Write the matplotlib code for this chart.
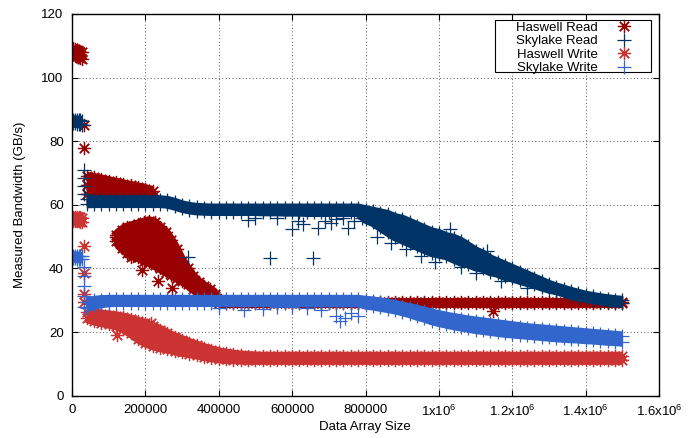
import numpy as np
import matplotlib
matplotlib.use("Agg")
import matplotlib.pyplot as plt
from matplotlib.lines import Line2D
from matplotlib.patches import Rectangle

plt.rcParams['font.family'] = ['Liberation Sans', 'DejaVu Sans']
plt.rcParams['mathtext.default'] = 'regular'

nan = np.nan

# array sizes (in thousands) of the dense part of the sweep
GRID_K = [40, 60, 80, 100, 120, 140, 160, 180, 200, 220,
          240, 260, 280, 300, 320, 340, 360, 380, 400, 420,
          440, 460, 480, 500, 520, 540, 560, 580, 600, 620,
          640, 660, 680, 700, 720, 740, 760, 780, 800, 820,
          840, 860, 880, 900, 920, 940, 960, 980, 1000, 1020,
          1040, 1060, 1080, 1100, 1120, 1140, 1160, 1180, 1200, 1220,
          1240, 1260, 1280, 1300, 1320, 1340, 1360, 1380, 1400, 1420,
          1440, 1460, 1480, 1500]
EARLY_K = [3, 8, 13, 18, 23, 28]
KNEE_K = [120, 135, 150, 165, 180, 195, 210, 225, 240, 255,
          270, 285, 300, 315, 330, 345, 360, 375, 390]

# ---- Haswell Read
HR_EARLY_HI = [109.3, 109.0, 108.8, 108.5, 108.2, 108.0]
HR_EARLY_LO = [107.3, 107.0, 106.7, 106.4, 106.1, 105.8]
HR_JUMP_K = [32, 32]
HR_JUMP = [85.0, 77.8]
HR_UP_A = [69.0, 68.6, 68.1, 67.6, 67.1, 66.6, 66.1, 65.6, 65.1, 64.5]
HR_UP_B = [66.2, 65.9, 65.5, 65.1, 64.7, 64.3, 63.9, 63.5, 63.1, 62.7]
HR_UP_C = [63.5, 63.4, 63.2, 63.0, 62.8, 62.6, 62.4, 62.2, 62.0, 61.8]
HR_KNEE_A = [50.5, 52.0, 53.0, 53.5, 54.0, 54.5, 55.0, 54.5, 53.0, 51.5,
             49.0, 46.0, 42.5, 40.0, 37.5, 35.8, 34.5, 33.5, 32.0]
HR_KNEE_B = [49.8, 50.2, 50.3, 50.3, 50.5, 50.5, 50.7, 50.0, 48.7, 47.3,
             45.3, 43.0, 40.5, 38.3, 36.2, 34.9, 33.5, 32.6, 31.3]
HR_KNEE_C = [nan, 48.3, 47.7, 47.2, 47.0, 46.5, 46.3, 45.5, 44.3, 43.2,
             41.7, 40.0, 38.3, 36.7, 34.8, 33.7, 32.5, 31.7, 30.7]
HR_KNEE_D = [48.5, 46.5, 45.0, 44.0, 43.5, 42.5, 42.0, 41.0, 40.0, 39.0,
             38.0, 37.0, 36.0, 35.0, 33.5, 32.5, 31.5, 30.8, 30.0]
HR_FLAT_A = [29.6, 29.6, 29.6, 29.6, 29.6, 29.6, 29.6, 29.6, 29.6, 29.6,
             29.6, 29.6, 29.6, 29.6, 29.6, 29.6, 29.6, 29.6, 29.6, 29.6,
             29.6, 29.6, 29.6, 29.6, 29.6, 29.6, 29.6, 29.6, 29.6, 29.6,
             29.6, 29.6, 29.6, 29.6, 29.6, 29.6, 29.6, 29.6, 29.6, 29.6,
             29.6, 29.6, 29.6, 29.6, 29.6, 29.6, 29.6, 29.6, 29.6, 29.6,
             29.6, 29.6, 29.6, 29.6, 29.6, 29.6]
HR_FLAT_B = [29.0, 29.0, 29.0, 29.0, 29.0, 29.0, 29.0, 29.0, 29.0, 29.0,
             29.0, 29.0, 29.0, 29.0, 29.0, 29.0, 29.0, 29.0, 29.0, 29.0,
             29.0, 29.0, 29.0, 29.0, 29.0, 29.0, 29.0, 29.0, 29.0, 29.0,
             29.0, 29.0, 29.0, 29.0, 29.0, 29.0, 29.0, 29.0, 29.0, 29.0,
             29.0, 29.0, 29.0, 29.0, 29.0, 29.0, 29.0, 29.0, 29.0, 29.0,
             29.0, 29.0, 29.0, 29.0, 29.0, 29.0]
HR_OUT_K = [160, 190, 235, 272, 1147]
HR_OUT = [43.5, 39.5, 36.0, 34.0, 26.5]

# ---- Skylake Read
SR_EARLY_HI = [86.8, 86.7, 86.7, 86.6, 86.6, 86.5]
SR_EARLY_LO = [85.6, 85.6, 85.5, 85.5, 85.4, 85.2]
SR_JUMP_K = [32, 32, 32, 32]
SR_JUMP = [71.0, 68.5, 66.0, 63.5]
SR_HI = [61.7, 61.6, 61.6, 61.6, 61.6, 61.6, 61.6, 61.6, 61.6, 61.6,
         61.6, 61.4, 60.8, 60.0, 59.5, 59.2, 59.1, 59.0, 59.0, 59.0,
         59.0, 59.0, 59.0, 59.0, 59.0, 59.0, 59.0, 59.0, 59.0, 59.0,
         59.0, 59.0, 59.0, 59.0, 59.0, 59.0, 59.0, 59.0, 58.5, 58.0,
         57.5, 57.0, 56.0, 55.5, 54.5, 53.5, 52.5, 51.5, 51.0, 50.0,
         49.5, 48.5, 47.0, 45.5, 44.5, 43.0, 42.0, 41.0, 40.0, 39.0,
         38.0, 37.0, 36.0, 35.0, 34.2, 33.5, 32.8, 32.2, 31.6, 31.2,
         30.8, 30.5, 30.2, 30.0]
SR_LO = [60.3, 60.4, 60.4, 60.4, 60.4, 60.4, 60.4, 60.4, 60.4, 60.4,
         60.4, 60.2, 59.6, 58.9, 58.4, 58.1, 58.0, 57.9, 57.9, 57.9,
         57.9, 57.9, 57.9, 57.9, 57.8, 57.8, 57.8, 57.7, 57.7, 57.7,
         57.6, 57.6, 57.6, 57.6, 57.6, 57.6, 57.6, 57.6, 55.5, 54.5,
         53.0, 51.5, 50.0, 49.0, 48.0, 47.0, 46.0, 45.0, 44.5, 44.0,
         43.0, 42.0, 41.5, 40.5, 40.0, 39.0, 38.5, 37.5, 37.0, 36.3,
         35.6, 35.0, 34.2, 33.5, 33.0, 32.3, 31.6, 31.0, 30.6, 30.2,
         29.8, 29.4, 29.2, 29.0]
SR_MID = [57.0, 56.2, 55.2, 54.2, 53.0, 52.2, 51.2, 50.2, 49.2, 48.2,
          47.7, 47.0, 46.2, 45.2, 44.2, 43.0, 42.2, 41.0]
SR_OUT_K = [316, 480, 500, 540, 560, 600, 615, 630, 656, 670,
            690, 705, 720, 740, 752, 770, 790, 830, 870, 910,
            950, 990, 1030, 1060, 1100, 1130, 1170, 1240]
SR_OUT = [43.6, 55.2, 56.0, 43.3, 56.0, 52.5, 55.0, 54.0, 43.3, 52.7,
          55.0, 54.3, 55.5, 56.0, 52.7, 55.0, 56.0, 50.0, 48.0, 46.0,
          44.0, 42.0, 52.5, 40.5, 38.5, 45.5, 36.0, 34.0]

# ---- Haswell Write
HW_EARLY_HI = [56.3, 56.3, 56.2, 56.2, 56.1, 56.0]
HW_EARLY_LO = [54.9, 54.9, 54.8, 54.8, 54.7, 54.7]
HW_JUMP_K = [32, 32, 32, 32]
HW_JUMP = [47.0, 38.5, 32.0, 29.5]
HW_HI = [26.2, 26.0, 25.7, 25.4, 25.1, 24.7, 24.1, 23.4, 22.7, 21.8,
         20.8, 19.6, 18.5, 17.6, 16.7, 15.9, 15.1, 14.4, 13.8, 13.4,
         13.0, 12.8, 12.6, 12.5, 12.4, 12.4, 12.4, 12.4, 12.4, 12.4,
         12.4, 12.4, 12.4, 12.4, 12.4, 12.4, 12.4, 12.4, 12.4, 12.4,
         12.4, 12.4, 12.4, 12.4, 12.4, 12.4, 12.4, 12.4, 12.4, 12.4,
         12.4, 12.4, 12.4, 12.4, 12.4, 12.4, 12.4, 12.4, 12.4, 12.4,
         12.4, 12.4, 12.4, 12.4, 12.4, 12.4, 12.4, 12.4, 12.4, 12.4,
         12.4, 12.4, 12.4, 12.4]
HW_LO = [24.3, 23.5, 23.0, 22.5, 22.0, 21.0, 19.6, 17.9, 16.6, 15.7,
         15.1, 14.6, 14.1, 13.6, 13.2, 12.8, 12.3, 11.9, 11.6, 11.4,
         11.3, 11.2, 11.1, 11.1, 11.1, 11.1, 11.1, 11.1, 11.1, 11.1,
         11.1, 11.1, 11.1, 11.1, 11.1, 11.1, 11.1, 11.1, 11.1, 11.1,
         11.1, 11.1, 11.1, 11.1, 11.1, 11.1, 11.1, 11.1, 11.1, 11.1,
         11.1, 11.1, 11.1, 11.1, 11.1, 11.1, 11.1, 11.1, 11.1, 11.1,
         11.1, 11.1, 11.1, 11.1, 11.1, 11.1, 11.1, 11.1, 11.1, 11.1,
         11.1, 11.1, 11.1, 11.1]
HW_MID = [22.8, 22.0, 20.8, 19.7, 18.7, 17.9, 17.1, 16.3, 15.6]
HW_OUT_K = [122, 215]
HW_OUT = [19.0, 23.0]

# ---- Skylake Write
SW_EARLY_HI = [44.0, 44.0, 43.9, 43.9, 43.8, 43.8]
SW_EARLY_LO = [43.2, 43.2, 43.1, 43.1, 43.0, 43.0]
SW_JUMP_K = [32, 32, 32, 32, 32]
SW_JUMP = [40.5, 37.5, 34.5, 31.5, 28.0]
SW_HI = [29.4, 30.0, 30.2, 30.3, 30.3, 30.3, 30.3, 30.3, 30.3, 30.3,
         30.3, 30.3, 30.3, 30.3, 30.3, 30.3, 30.3, 30.3, 30.3, 30.3,
         30.3, 30.3, 30.3, 30.3, 30.3, 30.3, 30.3, 30.3, 30.3, 30.3,
         30.3, 30.3, 30.3, 30.3, 30.3, 30.3, 30.3, 30.3, 30.0, 29.8,
         29.5, 29.1, 28.7, 28.2, 27.7, 27.2, 26.6, 26.0, 25.5, 25.0,
         24.6, 24.2, 23.8, 23.5, 23.2, 22.9, 22.6, 22.3, 22.0, 21.7,
         21.4, 21.2, 21.0, 20.8, 20.6, 20.4, 20.2, 20.0, 19.8, 19.6,
         19.4, 19.2, 19.0, 18.8]
SW_LO = [27.6, 28.4, 28.9, 29.2, 29.3, 29.3, 29.3, 29.3, 29.3, 29.3,
         29.3, 29.3, 29.3, 29.3, 29.3, 29.3, 29.3, 29.3, 29.3, 29.3,
         29.3, 29.3, 29.3, 29.3, 29.3, 29.3, 29.3, 29.3, 29.3, 29.3,
         29.2, 29.2, 29.2, 29.2, 29.2, 29.2, 29.2, 29.2, 28.5, 28.2,
         27.8, 27.4, 27.0, 26.4, 25.8, 25.0, 24.4, 23.6, 23.0, 22.5,
         22.0, 21.6, 21.2, 20.8, 20.5, 20.2, 19.9, 19.6, 19.4, 19.2,
         19.0, 18.8, 18.6, 18.4, 18.2, 18.0, 17.9, 17.8, 17.6, 17.5,
         17.3, 17.1, 17.0, 16.8]
SW_OUT_K = [400, 470, 520, 560, 600, 640, 680, 720, 730, 745, 760, 780]
SW_OUT = [27.5, 27.0, 27.2, 27.8, 28.0, 27.5, 27.0, 25.0, 23.5, 24.5, 26.0, 25.0]

C_HR = '#990000'
C_SR = '#003366'
C_HW = '#cc3333'
C_SW = '#3366cc'
STAR = (8, 2, 0)
MS = 9.5
MEW = 0.9
LW = 6.5

fig = plt.figure(figsize=(6.97, 4.38), dpi=100)
ax = fig.add_axes([72 / 697, 42.3 / 438, 587 / 697, 381.7 / 438])


def pts(xk, y, color, marker):
    ax.plot(np.array(xk) * 1000, y, ls='none', marker=marker, ms=MS,
            mew=MEW, color=color)


def band(xk, rows, color, marker):
    # the samples are so dense that they merge into a solid band
    x = np.array(xk) * 1000
    ax.fill_between(x, rows[-1], rows[0], color=color, lw=0)
    for r in rows:
        ax.plot(x, r, color=color, lw=LW, solid_capstyle='butt',
                marker=marker, ms=MS, mew=MEW)


# Haswell Read
band(EARLY_K, [HR_EARLY_HI, HR_EARLY_LO], C_HR, STAR)
pts(HR_JUMP_K, HR_JUMP, C_HR, STAR)
band(GRID_K[:10], [HR_UP_A, HR_UP_B, HR_UP_C], C_HR, STAR)
band(KNEE_K, [HR_KNEE_A, HR_KNEE_B, HR_KNEE_C, HR_KNEE_D], C_HR, STAR)
band(GRID_K[18:], [HR_FLAT_A, HR_FLAT_B], C_HR, STAR)
pts(HR_OUT_K, HR_OUT, C_HR, STAR)

# Skylake Read
band(EARLY_K, [SR_EARLY_HI, SR_EARLY_LO], C_SR, '+')
pts(SR_JUMP_K, SR_JUMP, C_SR, '+')
band(GRID_K, [SR_HI, SR_LO], C_SR, '+')
pts(GRID_K[38:56], SR_MID, C_SR, '+')
pts(SR_OUT_K, SR_OUT, C_SR, '+')

# Haswell Write
band(EARLY_K, [HW_EARLY_HI, HW_EARLY_LO], C_HW, STAR)
pts(HW_JUMP_K, HW_JUMP, C_HW, STAR)
band(GRID_K, [HW_HI, HW_LO], C_HW, STAR)
pts(GRID_K[5:14], HW_MID, C_HW, STAR)
pts(HW_OUT_K, HW_OUT, C_HW, STAR)

# Skylake Write
band(EARLY_K, [SW_EARLY_HI, SW_EARLY_LO], C_SW, '+')
pts(SW_JUMP_K, SW_JUMP, C_SW, '+')
band(GRID_K, [SW_HI, SW_LO], C_SW, '+')
pts(SW_OUT_K, SW_OUT, C_SW, '+')

ax.set_xlim(0, 1.6e6)
ax.set_ylim(0, 120)
ax.set_xticks([0, 2e5, 4e5, 6e5, 8e5, 1e6, 1.2e6, 1.4e6, 1.6e6])
ax.set_xticklabels(['0', '200000', '400000', '600000', '800000',
                    r'1x10$^6$', r'1.2x10$^6$', r'1.4x10$^6$', r'1.6x10$^6$'])
ax.set_yticks([0, 20, 40, 60, 80, 100, 120])
ax.tick_params(direction='in', length=4.5, width=0.8, top=True, right=True,
               labelsize=9.5, pad=6, colors='black')
ax.grid(True, color='#555555', linestyle=(0, (1, 2.5)), linewidth=0.7)
ax.set_axisbelow(True)
for s in ax.spines.values():
    s.set_linewidth(1.0)

fig.text(365 / 697, 1 - 427 / 438, 'Data Array Size', ha='center',
         va='center', fontsize=9.5)
fig.text(20 / 697, 1 - 205 / 438, 'Measured Bandwidth (GB/s)', ha='center',
         va='center', rotation=90, fontsize=9.5)

# legend: white box with text right-aligned, symbols on the right
ax.add_patch(Rectangle((495 / 697, 1 - 72 / 438), 156 / 697, 52 / 438,
                       transform=fig.transFigure, facecolor='white',
                       edgecolor='black', lw=0.8, zorder=4, clip_on=False))
handles = [Line2D([], [], ls='none', marker=STAR, ms=MS, mew=MEW, color=C_HR),
           Line2D([], [], ls='none', marker='+', ms=MS, mew=MEW, color=C_SR),
           Line2D([], [], ls='none', marker=STAR, ms=MS, mew=MEW, color=C_HW),
           Line2D([], [], ls='none', marker='+', ms=MS, mew=MEW, color=C_SW)]
labels = ['Haswell Read', 'Skylake Read', 'Haswell Write', 'Skylake Write']
leg = ax.legend(handles, labels, loc='upper right',
                bbox_to_anchor=(631 / 697, 1 - 21.5 / 438),
                bbox_transform=fig.transFigure, markerfirst=False,
                frameon=False, borderaxespad=0, borderpad=0,
                handlelength=1.0, handletextpad=1.5,
                labelspacing=0.1, fontsize=9.5)
leg.set_zorder(5)

fig.savefig('out.png', dpi=100)
